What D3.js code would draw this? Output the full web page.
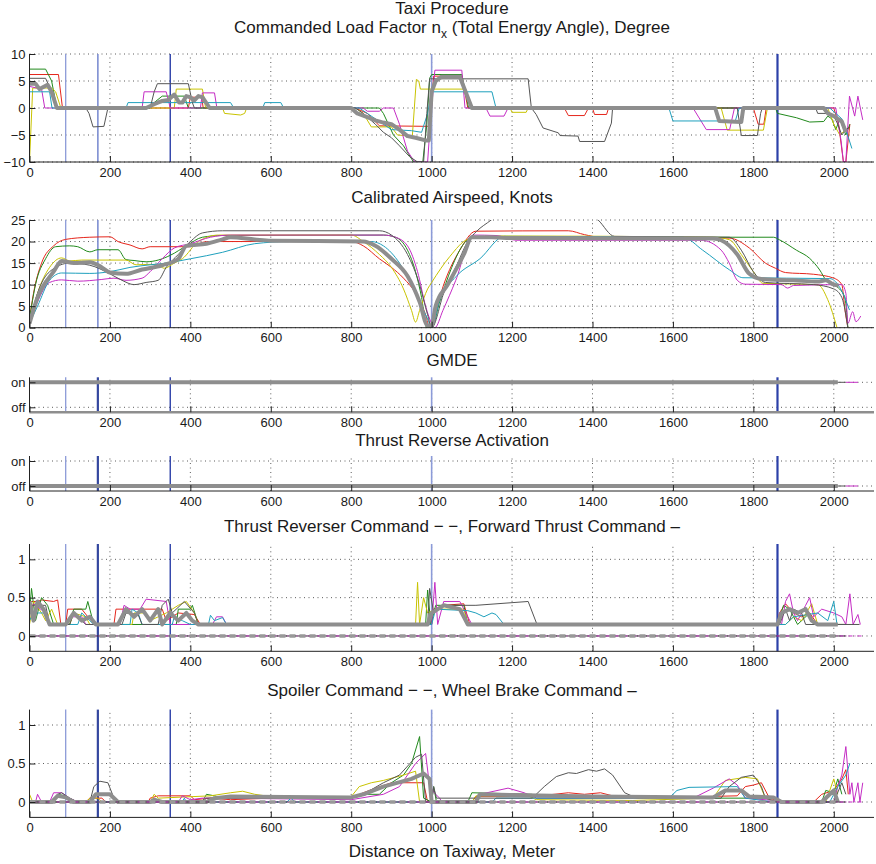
<!DOCTYPE html>
<html>
<head>
<meta charset="utf-8">
<script src="https://cdn.jsdelivr.net/npm/d3@7"></script>
<style>
  body { margin: 0; background: #fff; }
  text { font-family: "Liberation Sans", Arial, Helvetica, sans-serif; fill: #1a1a1a; }
</style>
</head>
<body>
<div id="chart"></div>
<script>
// ---- data: distance on taxiway (m), one array per run / signal ----
const xTicks = [0, 200, 400, 600, 800, 1000, 1200, 1400, 1600, 1800, 2000];
const eventMarks = [90, 170, 350, 1000, 1860];

// commanded load factor nx, degree
const loadRed = [[0,6.2],[72,6.2],[82,0],[395,0],[400,2],[428,2],[432,0],[810,0],[840,-1],[870,-3.3],[996,-3.4],[1005,5.9],[1075,5.9],[1090,0],[1330,0],[1340,-1.4],[1380,-1.4],[1390,0],[1400,0],[1405,-1.2],[1435,-1.2],[1440,0],[1800,0],[1812,-3],[1826,-3],[1832,0],[2000,0],[2012,-3],[2024,-10],[2030,-10],[2040,-3]];
const loadGreen = [[0,7.2],[40,7.2],[55,5],[68,0],[300,0],[310,1],[330,2.2],[385,2.2],[395,0],[870,0],[880,-1],[905,-5],[930,-7],[955,-10],[978,-10],[988,-3],[995,5.5],[1000,6.2],[1075,6.2],[1092,0],[1855,0],[1860,-1],[1907,-1.8],[1940,-2.6],[1975,-2.5],[1985,-1.5],[1995,-2],[2005,-4],[2015,-2],[2030,-5],[2040,-3]];
const loadYellow = [[0,-10],[8,3.7],[55,3.7],[65,3],[78,0],[360,0],[365,3.5],[430,3.5],[438,0],[480,0],[485,-1],[525,-1.3],[535,-1],[540,0],[810,0],[830,-1],[850,-3.5],[900,-3.5],[915,-5],[952,-5.2],[962,5.3],[968,5],[972,3.5],[1085,3.5],[1098,0],[1195,0],[1200,-0.8],[1235,-0.8],[1240,0],[1720,0],[1735,-4.1],[1825,-4.1],[1835,0],[1985,0],[2000,-3],[2015,-5],[2030,-4]];
const loadMagenta = [[0,4],[30,3.5],[38,0],[280,0],[285,3],[340,3],[350,0],[425,0],[430,2.8],[460,2.8],[466,0],[830,0],[840,-0.6],[870,-0.6],[880,0],[905,0],[920,-3],[940,-8],[958,-10],[990,-10],[996,-3.4],[1008,7],[1075,7],[1083,0],[1135,0],[1145,-1.5],[1180,-1.5],[1190,0],[1650,0],[1683,-4],[1741,-4],[1753,0],[2005,0],[2018,-6],[2024,-10],[2030,-10],[2039,2.2],[2052,-1.5],[2060,2.2],[2072,-2.2]];
const loadCyan = [[0,3],[50,3],[56,0],[240,0],[245,1],[500,1],[508,0],[580,0],[585,1],[625,1],[632,0],[820,0],[840,-1],[870,-2.5],[900,-4],[950,-4.2],[975,-4.5],[990,-1],[1000,3],[1150,3],[1160,0],[1590,0],[1600,-2.4],[1755,-2.4],[1765,0],[1990,0],[2005,-1],[2020,-2],[2030,-4],[2045,-7.5]];
const loadGray = [[0,5.5],[40,5.5],[55,3],[68,0],[140,0],[148,-1],[158,-3.5],[185,-3.4],[195,0],[300,0],[310,3],[318,4.5],[395,4.5],[405,1],[410,0],[810,0],[830,-1],[860,-3],[880,-4.5],[900,-5.5],[920,-7],[945,-9],[965,-10],[980,-10],[988,-1],[995,5.4],[1240,5.4],[1248,0],[1260,-1.2],[1277,-3.7],[1315,-4.6],[1319,-5.1],[1364,-5.2],[1368,-6.2],[1430,-6.2],[1447,-2.8],[1450,0],[1760,0],[1770,-5.1],[1810,-5.1],[1818,-1],[1822,0],[1955,0],[1960,-1],[1990,-1],[2000,-1.5],[2010,-3],[2020,-5],[2030,-4],[2040,-3.5]];
const loadMean = [[0,4.5],[15,4.5],[25,3.5],[45,4.3],[55,3],[68,0],[290,0],[310,0.7],[330,1.3],[345,1.5],[360,2.5],[372,1],[380,1],[390,2.2],[400,2],[410,1.4],[420,2.2],[430,2],[448,0],[800,0],[815,-1],[840,-1.7],[860,-2.3],[880,-2.7],[900,-3],[920,-4],[940,-5.2],[960,-5.5],[985,-6],[993,-6],[1000,3],[1010,5],[1025,5.8],[1070,5.8],[1100,0],[1705,0],[1715,-2.4],[1770,-2.6],[1775,0],[1975,0],[1985,-1],[2000,-1.5],[2010,-2],[2020,-2.5],[2030,-4.5]];

// calibrated airspeed, knots
const spdRed = [[0,2],[10,8],[30,15],[60,19],[90,20.5],[150,21],[200,21.1],[220,20],[250,19.2],[280,18.3],[300,18.8],[400,18.8],[440,20],[800,20],[830,19],[870,16],[900,14],[930,11.5],[960,8],[985,3],[995,0],[1000,0.5],[1030,10],[1070,18],[1110,22.4],[1340,22.5],[1380,21.6],[1420,21],[1740,20.8],[1790,18.5],[1830,15],[1855,13.8],[1880,12.8],[1950,12.4],[2000,11.5],[2020,10],[2028,4],[2035,0]];
const spdGreen = [[0,2],[15,10],[40,16],[65,18.8],[100,19],[120,18.8],[150,17.6],[170,18.1],[220,18.1],[240,15.8],[260,15.6],[290,15.3],[320,15.7],[350,16.8],[390,19],[430,21],[480,21.4],[880,21.5],[910,21],[940,18],[960,13],[975,7],[988,0],[1000,0],[1020,6],[1050,14],[1080,19.5],[1100,21],[1850,21],[1865,20.4],[1907,18],[1940,16.1],[1965,13.4],[1981,11],[2002,9.9],[2027,7.2],[2035,0]];
const spdYellow = [[0,1],[20,8],[50,14],[80,16.2],[100,15.5],[130,15.7],[240,15.7],[265,14.6],[300,14.7],[320,14.5],[335,13.8],[360,15],[380,16],[420,20],[470,21.5],[800,21.5],[830,20],[870,17],[900,14],[930,9],[950,4],[960,1.3],[970,4],[990,9],[1000,10.5],[1045,16.5],[1090,20.5],[1150,21.3],[1700,21],[1741,20.4],[1770,17],[1800,13],[1824,10.3],[1960,10],[1985,6.5],[2008,0]];
const spdMagenta = [[0,1],[20,6],[50,10.5],[80,11.1],[120,10.8],[180,11.2],[210,11.5],[240,11],[280,11.5],[300,13],[330,16],[360,18.5],[400,19.5],[450,21],[500,21.5],[880,21.5],[910,21],[940,19],[965,13],[985,5],[1000,1],[1008,0],[1028,4],[1060,11],[1103,21.5],[1160,21.4],[1210,20.3],[1670,20.3],[1720,18],[1740,15],[1760,11],[1780,10.1],[1870,10],[1885,9.2],[1900,9.8],[2020,10],[2030,8],[2035,1],[2047,3.7],[2055,1.4],[2067,2.7]];
const spdCyan = [[0,1],[20,5],[50,11],[80,12.7],[150,12.6],[200,13],[250,14],[300,14.6],[340,15],[400,16],[480,17.5],[560,19.5],[650,20],[850,20],[880,19],[920,15],[960,8],[990,2],[1000,0],[1020,6.4],[1061,11.9],[1120,16],[1181,21.2],[1625,21],[1674,18],[1741,13.4],[1774,11.6],[1990,11.4],[2014,9.5],[2039,4.1]];
const spdGray = [[0,1],[20,8],[50,13],[100,15],[150,14.5],[200,12.5],[230,11],[260,10],[290,10.5],[320,11],[340,14],[370,17],[400,20],[430,22],[480,22.5],[870,22.5],[900,21.5],[940,17],[970,10],[990,3],[1000,0],[1030,8],[1060,14],[1090,20],[1111,22.3],[1148,25],[1200,29],[1360,29],[1414,25],[1455,21.2],[1740,21],[1770,18],[1800,13],[1830,10.5],[1950,10],[2000,9],[2020,7],[2030,3],[2035,0]];
const spdMean = [[0,1],[20,7],[60,13],[80,15.5],[110,15],[150,15.2],[180,14],[200,12.8],[240,12.5],[280,13.5],[330,14.5],[370,16],[390,19],[440,19.5],[480,20.5],[500,21],[560,20.5],[600,20.2],[830,20],[860,19],[900,16],[940,12],[970,6],[990,0.5],[1000,0.5],[1010,5],[1040,10],[1080,17],[1100,21],[1150,21],[1200,20.8],[1700,20.7],[1720,20.3],[1760,17],[1790,12.5],[1820,11.3],[1900,11],[1960,10.7],[1980,11],[2000,10],[2012,9.8]];

// GMDE / thrust reverse activation (1 = on, 0 = off)
const gmdeMean = [[0,1],[2010,1]];
const gmdeDark = [[0,1],[2030,1]];
const gmdeMagenta = [[2030,1],[2060,1]];
const tracMean = [[0,0],[2010,0]];
const tracDark = [[0,0],[2030,0]];
const tracMagenta = [[2030,0],[2060,0]];

// forward thrust command (solid) and thrust reverser command (dashed)
const thrRed = [[0,0.45],[20,0.45],[30,0.47],[60,0.45],[70,0.47],[78,0.15],[90,0.15],[95,0.35],[130,0.35],[145,0.25],[165,0.15],[210,0.15],[215,0.35],[330,0.35],[340,0.2],[370,0.3],[410,0.28],[425,0.15],[1000,0.15],[1005,0.35],[1030,0.4],[1080,0.42],[1095,0.15],[1860,0.15],[1865,0.3],[1880,0.42],[1900,0.3],[1920,0.25],[1940,0.3],[1960,0.15],[2030,0.15]];
const thrGreen = [[0,0.3],[5,0.62],[15,0.2],[30,0.5],[45,0.4],[60,0.15],[100,0.15],[110,0.35],[140,0.35],[145,0.45],[160,0.15],[365,0.15],[370,0.35],[400,0.35],[405,0.4],[420,0.15],[985,0.15],[990,0.6],[998,0.15],[1010,0.4],[1080,0.4],[1090,0.15],[1860,0.15],[1875,0.4],[1890,0.35],[1910,0.15],[1940,0.3],[1950,0.15],[2030,0.15]];
const thrYellow = [[0,0.15],[10,0.45],[30,0.3],[40,0.2],[55,0.35],[70,0.15],[100,0.15],[110,0.3],[140,0.25],[150,0.15],[255,0.15],[260,0.3],[290,0.3],[300,0.2],[340,0.3],[370,0.4],[390,0.45],[410,0.3],[420,0.15],[960,0.15],[965,0.7],[970,0.15],[980,0.5],[990,0.3],[1010,0.35],[1080,0.35],[1090,0.15],[1880,0.15],[1900,0.25],[1920,0.2],[1945,0.42],[1960,0.15],[2030,0.15]];
const thrMagenta = [[0,0.3],[10,0.42],[40,0.3],[50,0.15],[95,0.15],[100,0.25],[130,0.25],[140,0.15],[225,0.15],[235,0.4],[250,0.35],[275,0.35],[290,0.48],[340,0.45],[350,0.15],[455,0.15],[465,0.25],[480,0.25],[490,0.15],[1000,0.15],[1008,0.7],[1015,0.15],[1030,0.45],[1070,0.45],[1100,0.15],[1870,0.15],[1880,0.45],[1890,0.55],[1900,0.3],[1910,0.2],[1930,0.4],[1940,0.5],[1950,0.25],[1970,0.35],[2000,0.3],[2020,0.25],[2030,0.15],[2040,0.55],[2048,0.15],[2060,0.28],[2066,0.15]];
const thrCyan = [[0,0.2],[10,0.3],[40,0.3],[50,0.15],[120,0.15],[130,0.3],[150,0.2],[160,0.15],[250,0.15],[255,0.35],[270,0.3],[280,0.15],[355,0.15],[360,0.25],[380,0.2],[400,0.15],[445,0.15],[450,0.27],[460,0.2],[480,0.24],[490,0.15],[1000,0.15],[1010,0.35],[1090,0.33],[1110,0.3],[1130,0.25],[1150,0.3],[1160,0.28],[1180,0.15],[1880,0.15],[1900,0.25],[1960,0.3],[1985,0.2],[2000,0.45],[2008,0.15],[2030,0.15]];
const thrGray = [[0,0.35],[5,0.4],[40,0.4],[50,0.15],[100,0.15],[110,0.3],[130,0.2],[140,0.15],[230,0.15],[240,0.3],[270,0.28],[280,0.15],[320,0.15],[330,0.4],[345,0.48],[355,0.3],[385,0.45],[410,0.3],[420,0.15],[990,0.15],[995,0.62],[1005,0.3],[1030,0.4],[1110,0.4],[1240,0.45],[1262,0.15],[1865,0.15],[1880,0.35],[1890,0.2],[1900,0.35],[1920,0.3],[1930,0.15],[2064,0.15]];
const thrMean = [[0,0.45],[10,0.2],[20,0.45],[35,0.35],[50,0.15],[90,0.15],[110,0.3],[130,0.2],[150,0.25],[165,0.15],[220,0.15],[240,0.35],[260,0.25],[280,0.35],[300,0.2],[320,0.35],[330,0.15],[350,0.3],[370,0.2],[390,0.3],[405,0.2],[420,0.15],[990,0.15],[1000,0.3],[1030,0.4],[1070,0.35],[1090,0.15],[1860,0.15],[1870,0.3],[1890,0.35],[1910,0.3],[1930,0.35],[1945,0.2],[1960,0.15],[2010,0.15]];
const revMean = [[0,0],[2010,0]];
const revDark = [[0,0],[2030,0]];
const revMagenta = [[0,0],[2070,0]];

// wheel brake command (solid) and spoiler command (dashed)
const brkRed = [[0,0],[140,0],[150,0.05],[180,0.05],[190,0],[295,0],[300,0.05],[320,0.08],[400,0.08],[410,0.03],[450,0.05],[500,0.03],[600,0.05],[800,0.05],[830,0.12],[860,0.18],[900,0.25],[980,0.25],[990,0],[1100,0],[1110,0.07],[1250,0.07],[1340,0.12],[1380,0.1],[1420,0.12],[1450,0.08],[1500,0.05],[1760,0.08],[1780,0.2],[1800,0.22],[1820,0.25],[1840,0.05],[1870,0],[1950,0],[1970,0.1],[2000,0.15],[2020,0.3],[2030,0.42],[2036,0.1]];
const brkGreen = [[0,0],[60,0],[70,0.1],[90,0.08],[100,0],[430,0],[440,0.1],[460,0.08],[480,0.05],[800,0.05],[840,0.1],[870,0.1],[900,0.25],[930,0.35],[950,0.5],[970,0.85],[980,0.05],[1000,0],[1005,0.2],[1012,0],[1090,0],[1100,0.12],[1250,0.1],[1260,0.05],[1700,0.05],[1850,0.05],[1870,0],[1970,0],[1980,0.15],[2000,0.12],[2010,0.3],[2020,0.1]];
const brkYellow = [[0,0.1],[8,0],[140,0],[150,0.05],[170,0.05],[180,0],[300,0],[310,0.1],[320,0.05],[450,0.08],[500,0.12],[530,0.14],[560,0.1],[600,0.07],[800,0.07],[820,0.2],[850,0.25],[880,0.28],[930,0.35],[960,0.4],[970,0],[1100,0],[1110,0.08],[1240,0.08],[1260,0.03],[1500,0.02],[1700,0.05],[1730,0.28],[1780,0.32],[1810,0.3],[1830,0.05],[1860,0],[1980,0],[2000,0.3],[2010,0.1]];
const brkMagenta = [[0,0],[15,0],[20,0.1],[30,0],[50,0],[60,0.12],[80,0.12],[100,0.05],[120,0],[370,0],[380,0.08],[400,0.03],[430,0.05],[480,0.05],[800,0.03],[880,0.1],[920,0.2],[960,0.5],[985,0.63],[995,0.2],[1010,0.1],[1020,0.05],[1025,0],[1110,0],[1120,0.1],[1190,0.18],[1230,0.12],[1260,0.05],[1650,0.05],[1700,0.18],[1740,0.3],[1760,0.22],[1780,0.05],[1900,0],[2000,0],[2010,0.2],[2020,0.35],[2030,0.72],[2040,0.1],[2045,0.25],[2050,0],[2060,0.25],[2065,0],[2072,0.25]];
const brkCyan = [[0,0],[380,0],[385,0.05],[390,0],[640,0],[650,0.05],[660,0],[1150,0],[1160,0.05],[1590,0.05],[1610,0.15],[1640,0.19],[1760,0.2],[1780,0.05],[1850,0],[1990,0],[2010,0.2],[2030,0.35],[2040,0.5]];
const brkGray = [[0,0],[60,0],[70,0.1],[80,0.12],[100,0.05],[120,0],[150,0],[160,0.2],[175,0.27],[195,0.25],[210,0.05],[215,0],[430,0],[440,0.05],[800,0.05],[830,0.1],[880,0.25],[920,0.35],[960,0.58],[975,0.62],[985,0],[1000,0],[1005,0.2],[1012,0.05],[1250,0.05],[1280,0.2],[1310,0.33],[1340,0.38],[1360,0.37],[1390,0.42],[1410,0.4],[1430,0.43],[1450,0.35],[1480,0.12],[1510,0.05],[1720,0.05],[1740,0.2],[1770,0.32],[1800,0.35],[1820,0.2],[1830,0.05],[1860,0],[2000,0],[2020,0.25],[2030,0.1]];
const brkMean = [[0,0],[55,0],[70,0.08],[90,0.06],[110,0],[150,0],[165,0.1],[200,0.1],[220,0],[300,0],[310,0.03],[330,0],[440,0],[460,0.05],[500,0.07],[800,0.06],[830,0.1],[880,0.2],[950,0.3],[980,0.37],[995,0.3],[1000,0],[1110,0],[1120,0.1],[1200,0.09],[1400,0.07],[1700,0.06],[1730,0.15],[1770,0.15],[1790,0.07],[1850,0.06],[1870,0],[1970,0],[1990,0.1],[2000,0.15],[2010,0]];
const splMean = [[0,0],[2010,0]];
const splDark = [[0,0],[2030,0]];
const splMagenta = [[0,0],[2070,0]];

// ---- styles ----
const C = { red: "#e5261c", green: "#21891c", yellow: "#c8c300", magenta: "#c42cc4", cyan: "#1fa0bd", dark: "#555555", mean: "#8e8e8e" };
const thin = (data, color) => ({ data, color, width: 1 });
const mean = data => ({ data, color: C.mean, width: 4 });
const runs = (r, g, y, m, c, k) => [thin(r, C.red), thin(g, C.green), thin(y, C.yellow), thin(m, C.magenta), thin(c, C.cyan), thin(k, C.dark)];

const W = 876, H = 864;
const svg = d3.select("#chart").append("svg").attr("width", W).attr("height", H);
const x = d3.scaleLinear().domain([0, 2100]).range([29.5, 874]);

const panels = [
  { title: null, top: 54, bottom: 162, domain: [-10, 10], yTicks: [-10, -5, 0, 5, 10], fmt: d => d < 0 ? "\u2212" + (-d) : d,
    lightEvents: true,
    series: [...runs(loadRed, loadGreen, loadYellow, loadMagenta, loadCyan, loadGray), mean(loadMean)] },
  { title: "Calibrated Airspeed, Knots", titleY: 203, top: 220, bottom: 327.7, domain: [0, 25], yTicks: [0, 5, 10, 15, 20, 25], fmt: d => d,
    lightEvents: true, smooth: true,
    series: [...runs(spdRed, spdGreen, spdYellow, spdMagenta, spdCyan, spdGray), mean(spdMean)] },
  { title: "GMDE", titleY: 366, top: 377.3, bottom: 412.3, domain: [-0.2, 1.2], yTicks: [0, 1], fmt: d => d ? "on" : "off", grayBase: true,
    series: [thin(gmdeDark, C.dark), thin(gmdeMagenta, C.magenta), mean(gmdeMean)] },
  { title: "Thrust Reverse Activation", titleY: 446, top: 456, bottom: 491, domain: [-0.2, 1.2], yTicks: [0, 1], fmt: d => d ? "on" : "off",
    series: [thin(tracDark, C.dark), thin(tracMagenta, C.magenta), mean(tracMean)] },
  { title: "Thrust Reverser Command \u2212 \u2212, Forward Thrust Command \u2013", titleY: 532, top: 544, bottom: 651.3, domain: [-0.2, 1.2], yTicks: [0, 0.5, 1], fmt: d => d,
    series: [...runs(thrRed, thrGreen, thrYellow, thrMagenta, thrCyan, thrGray), mean(thrMean),
      { data: revDark, color: "#333", width: 1 },
      { data: revMagenta, color: C.magenta, width: 1, dash: "4,2,1,2" },
      { data: revMean, color: "#999", width: 3.5, dash: "6,4" }] },
  { title: "Spoiler Command \u2212 \u2212, Wheel Brake Command \u2013", titleY: 696, top: 709.6, bottom: 817.4, domain: [-0.2, 1.2], yTicks: [0, 0.5, 1], fmt: d => d,
    series: [...runs(brkRed, brkGreen, brkYellow, brkMagenta, brkCyan, brkGray), mean(brkMean),
      { data: splDark, color: "#333", width: 1 },
      { data: splMagenta, color: C.magenta, width: 1, dash: "4,2,1,2" },
      { data: splMean, color: "#999", width: 3.5, dash: "6,4" }] }
];

const eventStyle = [
  { c: "#8c9bd8", w: 1.3 }, { c: "#34479f", w: 2.2 }, { c: "#2c40a8", w: 1.4 }, { c: "#8c9bd8", w: 1.6 }, { c: "#2c40a8", w: 2.2 }
];

// main title, two lines
svg.append("text").attr("x", 452).attr("y", 13.5).attr("text-anchor", "middle").attr("font-size", 17).text("Taxi Procedure");
const t2 = svg.append("text").attr("x", 452).attr("y", 33).attr("text-anchor", "middle").attr("font-size", 17);
t2.append("tspan").text("Commanded Load Factor n");
t2.append("tspan").attr("dy", 5).attr("font-size", 12).text("x");
t2.append("tspan").attr("dy", -5).text(" (Total Energy Angle), Degree");

panels.forEach((p, i) => {
  const y = d3.scaleLinear().domain(p.domain).range([p.bottom, p.top]);
  const g = svg.append("g");
  const clipId = "clip" + i;
  svg.append("clipPath").attr("id", clipId).append("rect")
    .attr("x", x(0)).attr("y", p.top).attr("width", x(2100) - x(0)).attr("height", p.bottom - p.top);

  if (p.title) {
    g.append("text").attr("x", 452).attr("y", p.titleY).attr("text-anchor", "middle").attr("font-size", 17).text(p.title);
  }

  // dotted grid
  g.selectAll(".gx").data(xTicks.filter(d => d > 0)).join("line")
    .attr("x1", d => x(d)).attr("x2", d => x(d)).attr("y1", p.bottom).attr("y2", p.top)
    .attr("stroke", "#333").attr("stroke-width", 0.8).attr("stroke-dasharray", "1,3.5");
  g.selectAll(".gy").data(p.yTicks).join("line")
    .attr("x1", x(0)).attr("x2", x(2100)).attr("y1", d => y(d)).attr("y2", d => y(d))
    .attr("stroke", "#333").attr("stroke-width", 0.8).attr("stroke-dasharray", "1,3.5");

  // event markers
  g.selectAll(".ev").data(eventMarks).join("line")
    .attr("x1", d => x(d)).attr("x2", d => x(d)).attr("y1", p.bottom).attr("y2", p.top)
    .attr("stroke", (d, k) => (p.lightEvents && k === 1) ? "#7d8ed2" : eventStyle[k].c)
    .attr("stroke-width", (d, k) => (p.lightEvents && k === 1) ? 1.6 : eventStyle[k].w);

  // signals
  const line = d3.line().x(d => x(d[0])).y(d => y(d[1]));
  if (p.smooth) line.curve(d3.curveMonotoneX);
  const sg = g.append("g").attr("clip-path", `url(#${clipId})`);
  p.series.forEach(s => {
    sg.append("path").attr("d", line(s.data)).attr("fill", "none")
      .attr("stroke", s.color).attr("stroke-width", s.width)
      .attr("stroke-linejoin", "round")
      .attr("stroke-dasharray", s.dash || null);
  });

  // axes (MATLAB style, ticks inside, no box)
  const xAxis = d3.axisBottom(x).tickValues(xTicks).tickSize(-6).tickPadding(5.5).tickFormat(d3.format("d"));
  const ax = g.append("g").attr("transform", `translate(0,${p.bottom})`).call(xAxis);
  ax.select(".domain").attr("d", `M${x(0)},0H${x(2100)}`)
    .attr("stroke", p.grayBase ? "#8e8e8e" : "#222").attr("stroke-width", p.grayBase ? 2.5 : 1);
  const yAxis = d3.axisLeft(y).tickValues(p.yTicks).tickSize(-6).tickPadding(4).tickFormat(p.fmt);
  const ay = g.append("g").attr("transform", `translate(${x(0)},0)`).call(yAxis);
  ay.select(".domain").attr("d", `M0,${p.top}V${p.bottom}`).attr("stroke", "#222");
  [ax, ay].forEach(a => {
    a.selectAll(".tick line").attr("stroke", "#222");
    a.selectAll("text").attr("font-size", 13).attr("fill", "#1a1a1a")
      .style("font-family", '"Liberation Sans", Arial, sans-serif');
  });
});

svg.append("text").attr("x", 452).attr("y", 857).attr("text-anchor", "middle").attr("font-size", 17)
  .text("Distance on Taxiway, Meter");
</script>
</body>
</html>
